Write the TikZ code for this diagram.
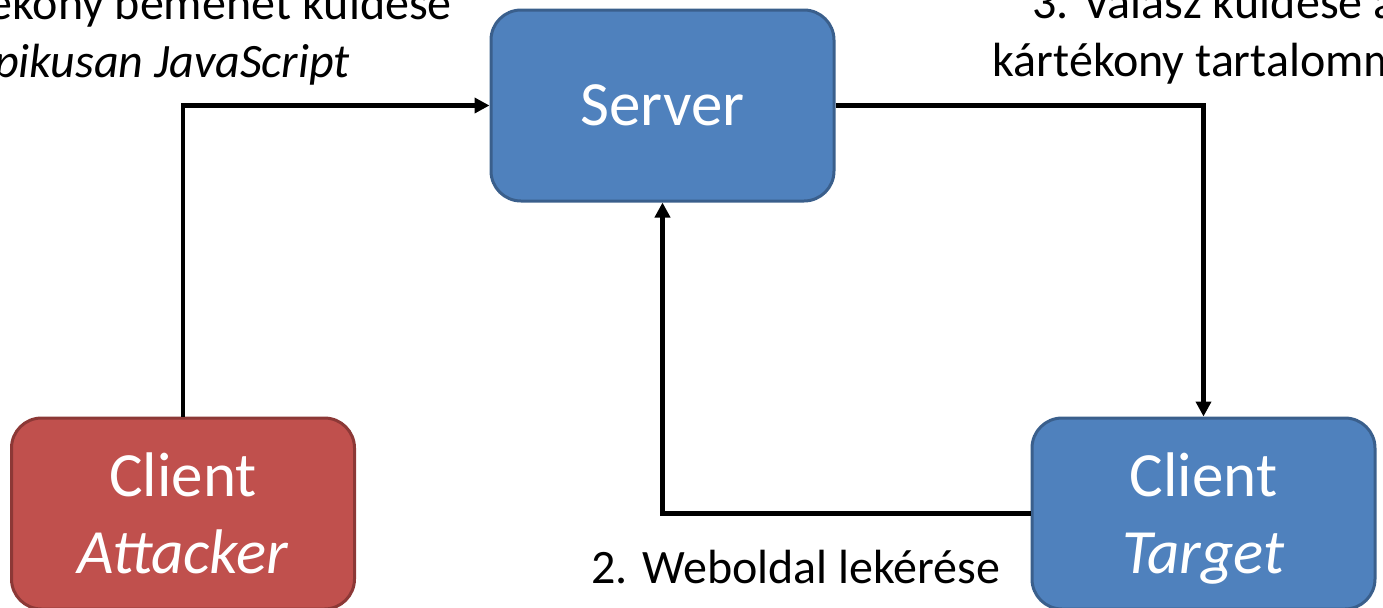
\documentclass[tikz,border=0pt]{standalone}
\usepackage{fontspec}
\setmainfont{Carlito}
\usetikzlibrary{arrows.meta}
\definecolor{boxblue}{HTML}{4F81BD}
\definecolor{boxblueline}{HTML}{3A5F8C}
\definecolor{boxred}{HTML}{C0504D}
\definecolor{boxredline}{HTML}{8C3836}
\tikzset{
  box/.style={rectangle, rounded corners=15pt, line width=1.5pt,
    minimum width=171.5pt, minimum height=95.5pt, text=white, align=center,
    text depth=0pt, font=\fontsize{31.5}{38.5}\selectfont},
  lbl/.style={align=center, font=\fontsize{24}{29}\selectfont},
  flow/.style={line width=2.25pt, -{Triangle[length=7.5pt,width=7.5pt]}}
}
\begin{document}
\begin{tikzpicture}[x=0.5pt,y=-0.5pt]
      \clip (0,0) rectangle (1383,607);
      \draw
        (662.5,105.5) node[box, fill=boxblue, draw=boxblueline] (server){Server}
        (183,513.5) node[box, fill=boxred, draw=boxredline] (attacker){Client\\\textit{Attacker}}
        (1203.5,513.5) node[box, fill=boxblue, draw=boxblueline] (target){Client\\\textit{Target}};
      \draw
        (155,77) node[lbl, anchor=base] (lblsend){1. Kártékony bemenet küldése\\\textit{Tipikusan JavaScript}}
        (796,583) node[lbl, anchor=base] (lblget){2. Weboldal lekérése}
        (1214.5,76) node[lbl, anchor=base] (lblreply){3. Válasz küldése a\\kártékony tartalommal};
      \begin{scope}[flow]
        \draw (attacker.north) |- (server.west);
        \draw (server.east) -| (target.north);
        \draw (target.west) -| (server.south);
      \end{scope}
    \end{tikzpicture}
\end{document}
